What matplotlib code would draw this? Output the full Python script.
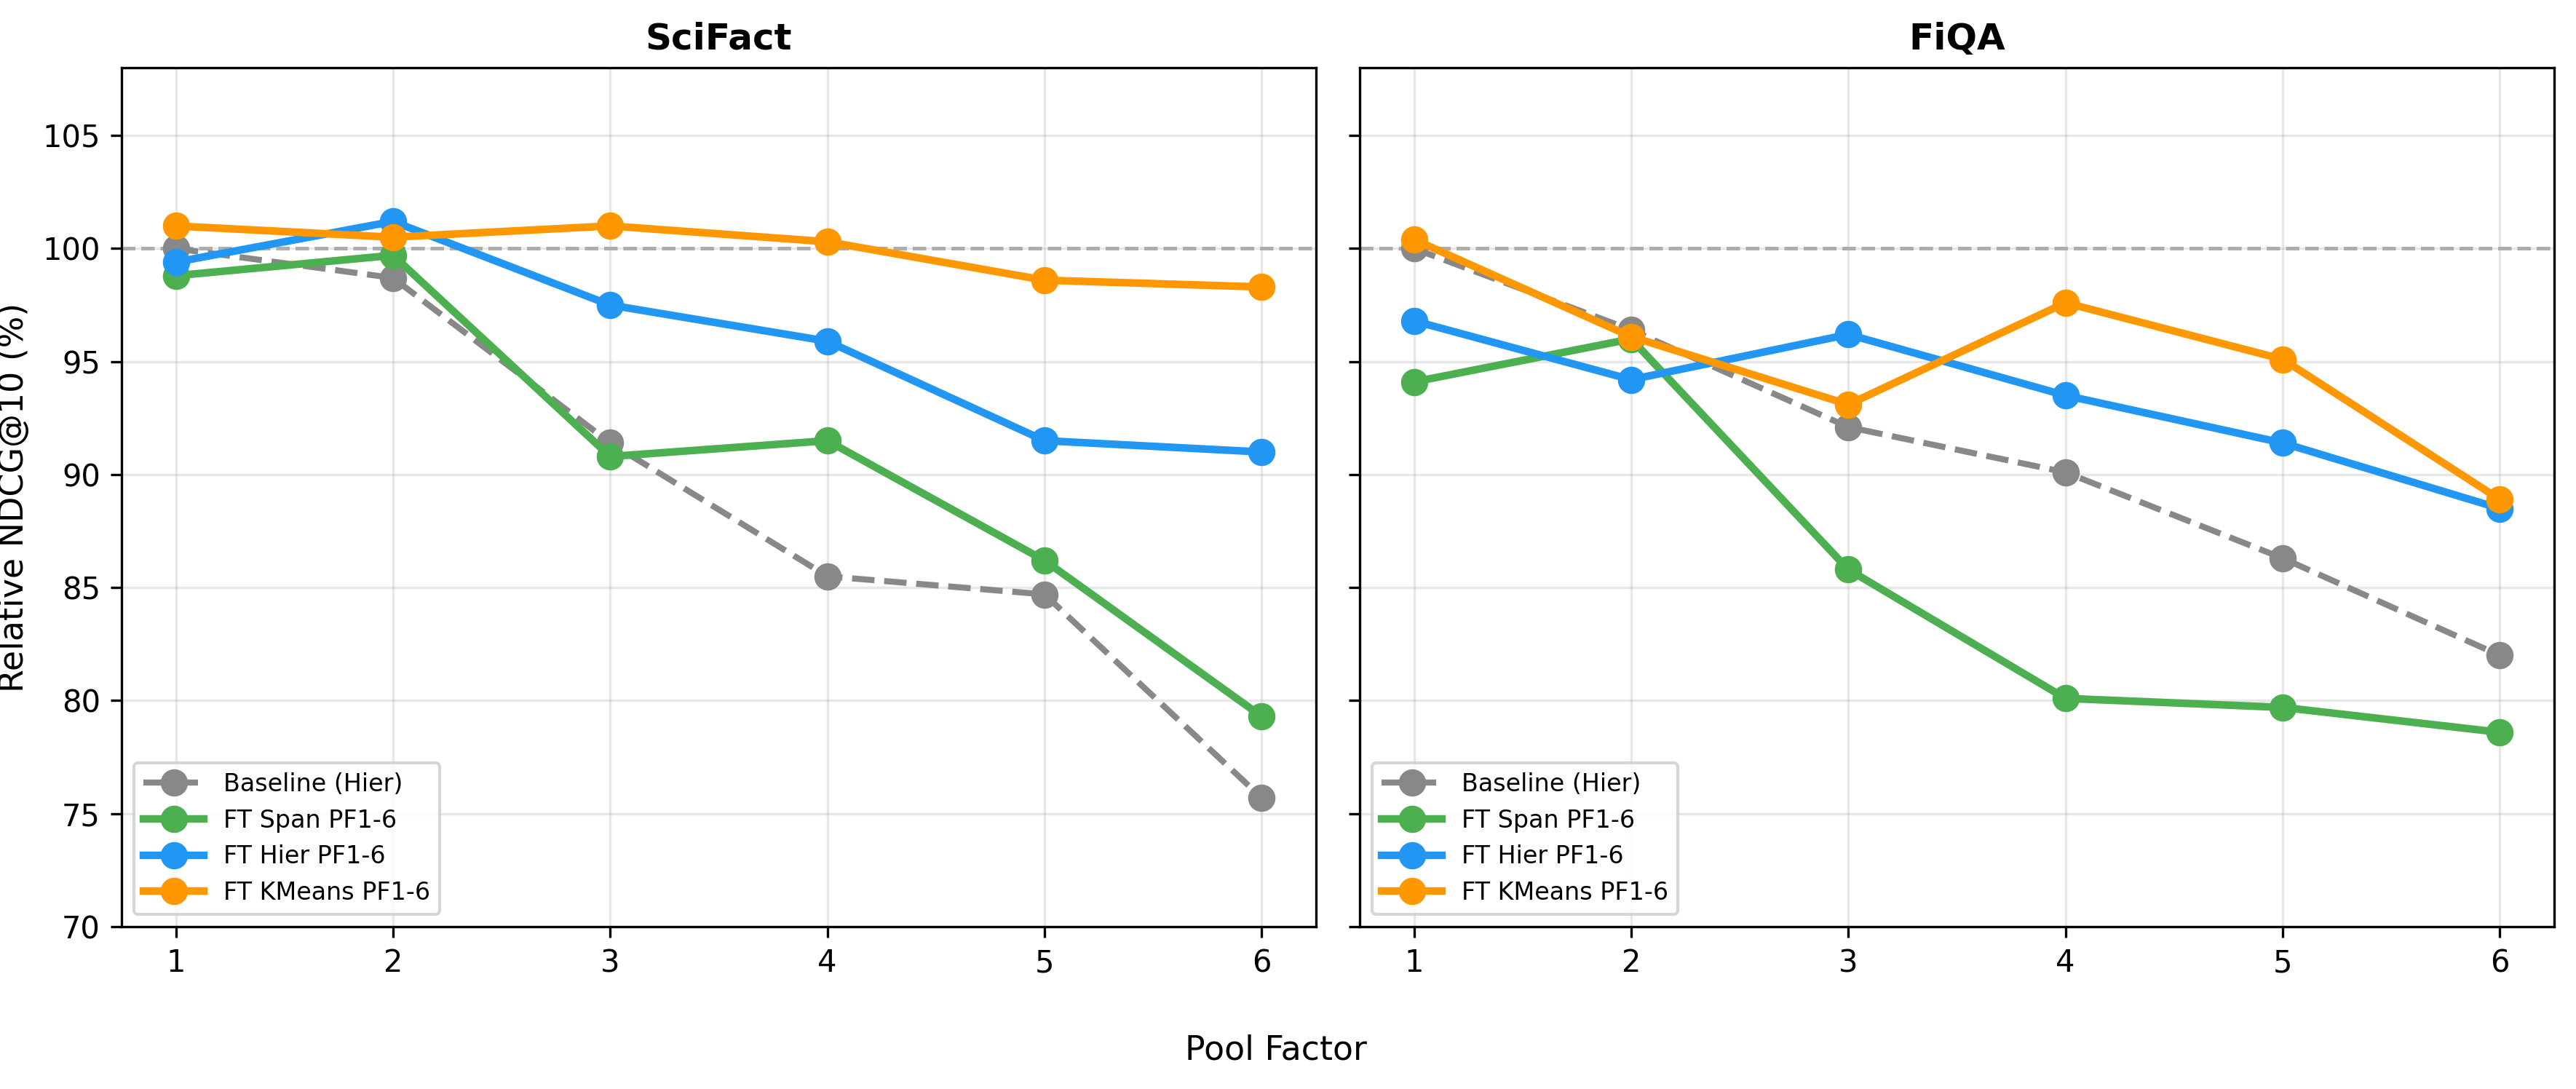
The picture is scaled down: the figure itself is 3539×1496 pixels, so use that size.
import matplotlib
matplotlib.use('Agg')
import matplotlib.pyplot as plt

pool_factors = [1, 2, 3, 4, 5, 6]

# SciFact
scifact_baseline = [100.0, 98.7, 91.4, 85.5, 84.7, 75.7]
scifact_span = [98.8, 99.7, 90.8, 91.5, 86.2, 79.3]
scifact_hier = [99.4, 101.2, 97.5, 95.9, 91.5, 91.0]
scifact_kmeans = [101.0, 100.5, 101.0, 100.3, 98.6, 98.3]

# FiQA
fiqa_baseline = [100.0, 96.4, 92.1, 90.1, 86.3, 82.0]
fiqa_span = [94.1, 96.0, 85.8, 80.1, 79.7, 78.6]
fiqa_hier = [96.8, 94.2, 96.2, 93.5, 91.4, 88.5]
fiqa_kmeans = [100.4, 96.1, 93.1, 97.6, 95.1, 88.9]

titles = ['SciFact', 'FiQA']
labels = ['Baseline (Hier)', 'FT Span PF1-6', 'FT Hier PF1-6', 'FT KMeans PF1-6']
colors = ['#888888', '#4CAF50', '#2196F3', '#FF9800']

datasets = [
    [scifact_baseline, scifact_span, scifact_hier, scifact_kmeans],
    [fiqa_baseline, fiqa_span, fiqa_hier, fiqa_kmeans],
]

W, H = 3539, 1496
fig = plt.figure(figsize=(W / 300, H / 300), dpi=300)

ax_w = 1641 / W
ax_h = 1180 / H
ax_b = (H - 1273) / H
ax1 = fig.add_axes([167 / W, ax_b, ax_w, ax_h])
ax2 = fig.add_axes([1868 / W, ax_b, ax_w, ax_h], sharey=ax1)
axes = [ax1, ax2]

for ax, title, series in zip(axes, titles, datasets):
    ax.axhline(100, color='gray', linestyle='--', linewidth=1.2, alpha=0.65, zorder=1)
    for i, (values, label, color) in enumerate(zip(series, labels, colors)):
        if i == 0:
            ax.plot(pool_factors, values, marker='o', markersize=8, linewidth=2,
                    linestyle='--', color=color, label=label, zorder=2)
        else:
            ax.plot(pool_factors, values, marker='o', markersize=8, linewidth=2.5,
                    color=color, label=label, zorder=3)
    ax.set_title(title, fontsize=12, fontweight='bold')
    ax.set_xticks(pool_factors)
    ax.set_ylim(70, 108)
    ax.grid(True, alpha=0.3)
    ax.tick_params(labelsize=10)
    ax.legend(loc='lower left', fontsize=8, handlelength=2.5)

ax1.set_ylabel('Relative NDCG@10 (%)', fontsize=11)
plt.setp(ax2.get_yticklabels(), visible=False)

fig.text(1753 / W, 40 / H, 'Pool Factor', ha='center', va='baseline', fontsize=11)

fig.savefig('out.png', dpi=300)
